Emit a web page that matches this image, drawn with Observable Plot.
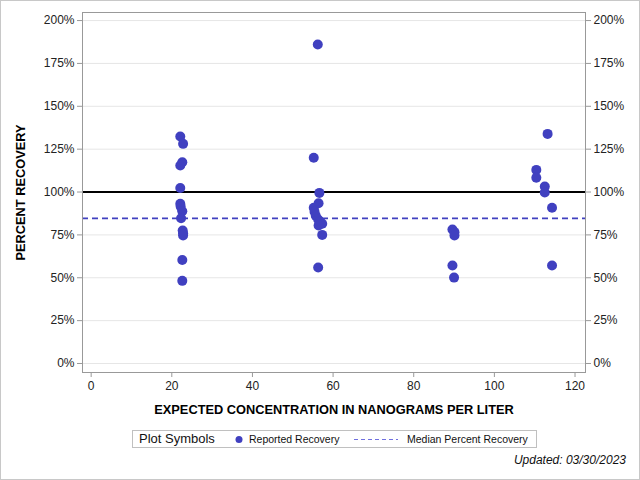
<!DOCTYPE html>
<html>
<head>
<meta charset="utf-8">
<script src="https://cdn.jsdelivr.net/npm/d3@7"></script>
<script src="https://cdn.jsdelivr.net/npm/@observablehq/plot@0.6"></script>
<style>
  body { margin: 0; background: #fff; font-family: "Liberation Sans", Arial, sans-serif; }
  #wrap { position: relative; width: 640px; height: 480px; overflow: hidden; }
  #border { position: absolute; left: 0; top: 0; width: 638px; height: 478px; border: 1px solid #c8c8c8; pointer-events: none; }
  #chart { position: absolute; left: 0; top: 0; }
  #legend { position: absolute; left: 132px; top: 430px; width: 403px; height: 16px; border: 1px solid #c0c0c0; box-sizing: content-box; }
  #legend span { position: absolute; white-space: nowrap; color: #111; }
  #updated { position: absolute; right: 14px; top: 453px; font-size: 12px; font-style: italic; color: #111; }
</style>
</head>
<body>
<div id="wrap">
  <div id="chart"></div>
  <div id="legend"></div>
  <div id="updated"></div>
  <div id="border"></div>
</div>
<script>
// Expected concentration (ng/L) and percent recovery for each reported sample
const concentration = [
  22.1, 22.8, 22.6, 22.1, 22.1, 22.1, 22.2, 22.6, 22.3, 22.7, 22.8, 22.8, 22.6, 22.6,
  55.2, 56.2, 56.6, 56.4, 55.2, 55.4, 55.7, 56.3, 56.8, 57.3, 56.4, 57.3, 56.3,
  89.6, 90.1, 90.1, 89.6, 90.0,
  113.2, 110.4, 110.4, 112.5, 112.5, 114.3, 114.3
];
const recovery = [
  132.4, 128.1, 117.4, 115.5, 102.4, 93.1, 91.5, 88.8, 84.7, 77.6, 76.0, 74.6, 60.4, 48.2,
  120.0, 186.0, 99.5, 93.5, 90.8, 88.5, 86.2, 84.0, 82.6, 81.5, 80.5, 75.0, 56.0,
  78.1, 76.6, 74.6, 57.1, 50.1,
  133.9, 112.9, 108.3, 103.2, 99.7, 90.8, 57.1
];
const medianRecovery = 84.6;
const referenceRecovery = 100;
const xTicks = [0, 20, 40, 60, 80, 100, 120];
const yTicks = [0, 25, 50, 75, 100, 125, 150, 175, 200];
const xLabel = "EXPECTED CONCENTRATION IN NANOGRAMS PER LITER";
const yLabel = "PERCENT RECOVERY";
const legendTitle = "Plot Symbols";
const legendItems = ["Reported Recovery", "Median Percent Recovery"];
const updatedText = "Updated: 03/30/2023";

const data = concentration.map((c, i) => ({conc: c, rec: recovery[i]}));
const blue = "#4040c0";
const font = "Liberation Sans, Arial, sans-serif";

const chart = Plot.plot({
  width: 640,
  height: 425,
  marginLeft: 82,
  marginRight: 55,
  marginTop: 12,
  marginBottom: 53,
  style: {fontFamily: font, fontSize: "12px", color: "#222", background: "transparent"},
  x: {domain: [-2.15, 122.6]},
  y: {domain: [-5.25, 204.7]},
  marks: [
    Plot.gridY(yTicks, {stroke: "#e6e6e6", strokeOpacity: 1}),
    Plot.ruleY([referenceRecovery], {stroke: "#000", strokeWidth: 2}),
    Plot.ruleY([medianRecovery], {stroke: blue, strokeWidth: 1.8, strokeDasharray: "6,4"}),
    Plot.dot(data, {x: "conc", y: "rec", r: 5, fill: blue, stroke: "none"}),
    Plot.frame({stroke: "#999"}),
    Plot.axisY(yTicks, {anchor: "left", tickSize: 5, tickPadding: 3, tickFormat: d => d + "%", label: null, stroke: "#999", fontSize: 12}),
    Plot.axisY(yTicks, {anchor: "right", tickSize: 5, tickPadding: 3, tickFormat: d => d + "%", label: null, stroke: "#999", fontSize: 12}),
    Plot.axisX(xTicks, {anchor: "bottom", tickSize: 5, tickPadding: 4, label: null, stroke: "#999", fontSize: 12}),
    Plot.text([xLabel], {frameAnchor: "bottom", dy: 37, textAnchor: "middle", lineAnchor: "middle", fontWeight: "bold", fontSize: 12.8, fill: "#000"}),
    Plot.text([yLabel], {frameAnchor: "left", dx: -62, rotate: -90, textAnchor: "middle", lineAnchor: "middle", fontWeight: "bold", fontSize: 12.8, fill: "#000"})
  ]
});
document.getElementById("chart").appendChild(chart);

// Legend
const legend = document.getElementById("legend");
const t = document.createElement("span");
t.textContent = legendTitle;
t.style.cssText = "left:6px; top:0px; font-size:13px; line-height:16px;";
legend.appendChild(t);

const sym = d3.create("svg").attr("width", 403).attr("height", 16)
  .style("position", "absolute").style("left", "0").style("top", "0");
sym.append("circle").attr("cx", 106).attr("cy", 8.5).attr("r", 3.5).attr("fill", blue);
sym.append("line").attr("x1", 221).attr("x2", 265).attr("y1", 8.5).attr("y2", 8.5)
  .attr("stroke", "#7070e0").attr("stroke-width", 1).attr("stroke-dasharray", "4,3");
legend.appendChild(sym.node());

const l1 = document.createElement("span");
l1.textContent = legendItems[0];
l1.style.cssText = "left:116px; top:0px; font-size:10.5px; line-height:16px;";
legend.appendChild(l1);
const l2 = document.createElement("span");
l2.textContent = legendItems[1];
l2.style.cssText = "left:274px; top:0px; font-size:10.5px; line-height:16px;";
legend.appendChild(l2);

document.getElementById("updated").textContent = updatedText;
</script>
</body>
</html>
